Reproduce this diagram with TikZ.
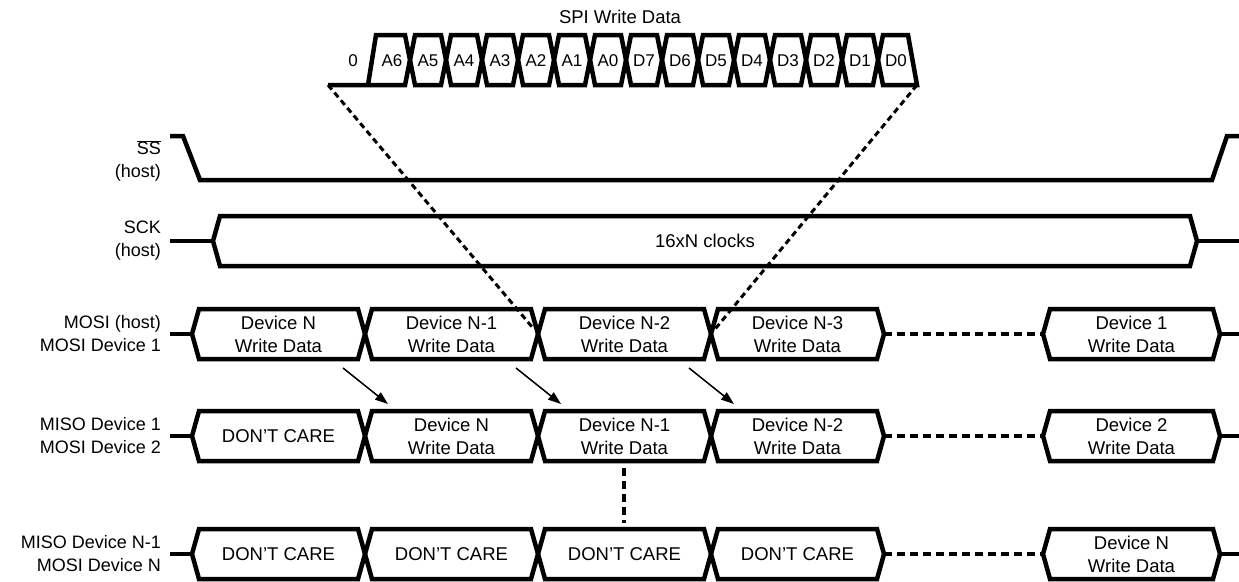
\documentclass[tikz,border=0pt]{standalone}
\usepackage{fontspec}
\setmainfont{Liberation Sans}
\usetikzlibrary{arrows.meta,calc,positioning}

\tikzset{
  wave/.style={line width=4.5pt},
  sig/.style={font=\fontsize{18}{23}\selectfont, align=right, anchor=east, inner sep=0pt},
  boxtxt/.style={font=\fontsize{18.5}{23}\selectfont, align=center, inner sep=0pt},
  bit/.style={font=\fontsize{17}{19}\selectfont, inner sep=0pt},
  gapdots/.style={line width=4.5pt, dash pattern=on 8pt off 5pt},
  linkdots/.style={line width=3pt, dash pattern=on 6pt off 4pt, shorten >=6pt},
  arr/.style={line width=1.5pt, -{Triangle[length=13pt,width=9pt]}},
}

\begin{document}
\begin{tikzpicture}[x=1pt,y=-1pt]
\useasboundingbox (0,0) rectangle (1239,581);

\node[boxtxt] (title) at (620,17) {SPI Write Data};
\node[bit] (b0) at (353,61) {0};
\draw[wave] (328,85) -- (368,85) -- (376,35) -- (405,35) -- (410,60) -- (405,85) -- (368,85);
\foreach \i in {1,...,13}
  \draw[wave] ({374+36*\i},60) -- ({379+36*\i},35) -- ({405+36*\i},35) -- ({410+36*\i},60) -- ({405+36*\i},85) -- ({379+36*\i},85) -- cycle;
\draw[wave] (878,60) -- (883,35) -- (908,35) -- (917,85) -- (883,85) -- cycle;
\foreach \t [count=\i from 0] in {A6,A5,A4,A3,A2,A1,A0,D7,D6,D5,D4,D3,D2,D1,D0}
  \node[bit] (bit\i) at ({392+36*\i},61) {\t};

\node[sig] (ss) at (161,161) {$\overline{\mbox{SS}}$\\(host)};
\draw[wave] (170,136) -- (183,136) -- (200,180) -- (1212,180) -- (1227,136) -- (1239,136);

\node[sig] (sck) at (161,241) {SCK\\(host)};
\draw[wave] (170,241) -- (213,241);
\draw[wave] (213,241) -- (220,216) -- (1190,216) -- (1197,241) -- (1190,266) -- (220,266) -- cycle;
\draw[wave] (1197,241) -- (1239,241);
\node[boxtxt] (clk) at (705,241) {16xN clocks};

\node[sig] (mosi) at (161,334) {MOSI (host)\\MOSI Device 1};
\node[sig] (misoa) at (161,436) {MISO Device 1\\MOSI Device 2};
\node[sig] (misob) at (161,554) {MISO Device N-1\\MOSI Device N};

\foreach \y/\r in {334/mosi, 436/misoa, 554/misob} {
  \draw[wave] (170,\y) -- (192,\y);
  \draw[wave] (1220,\y) -- (1239,\y);
  \draw[wave] (1043,\y) -- (1050,\y-25) -- (1213,\y-25) -- (1220,\y) -- (1213,\y+25) -- (1050,\y+25) -- cycle;
  \foreach \xa in {192,365,538,711}
    \draw[wave] (\xa,\y) -- (\xa+7,\y-25) -- (\xa+166,\y-25) -- (\xa+173,\y) -- (\xa+166,\y+25) -- (\xa+7,\y+25) -- cycle;
  \coordinate (\r-a) at (884,\y);
  \coordinate (\r-b) at (1043,\y);
  \draw[gapdots] (\r-a) -- (\r-b);
}

\foreach \t [count=\i] in {{Device N\\Write Data},{Device N-1\\Write Data},{Device N-2\\Write Data},{Device N-3\\Write Data}}
  \node[boxtxt] (mosi\i) at ({105.5+173*\i},334) {\t};
\node[boxtxt] (mosi5) at (1131.5,334) {Device 1\\Write Data};

\foreach \t [count=\i] in {{DON'T CARE},{Device N\\Write Data},{Device N-1\\Write Data},{Device N-2\\Write Data}}
  \node[boxtxt] (misoa\i) at ({105.5+173*\i},436) {\t};
\node[boxtxt] (misoa5) at (1131.5,436) {Device 2\\Write Data};

\foreach \i in {1,...,4}
  \node[boxtxt] (misob\i) at ({105.5+173*\i},554) {DON'T CARE};
\node[boxtxt] (misob5) at (1131.5,554) {Device N\\Write Data};

\foreach \c [count=\i] in {365,538,711} {
  \coordinate (from\i) at (\c-22,368);
  \coordinate (to\i) at (\c+23,404);
  \draw[arr] (from\i) -- (to\i);
}

\coordinate (chainTop) at (624,468);
\coordinate (chainBot) at (624,523);
\draw[gapdots] (chainTop) -- (chainBot);

\coordinate (spiL) at (328,85);
\coordinate (spiR) at (917,85);
\coordinate (xN2) at (538,334);
\coordinate (xN3) at (711,334);
\draw[linkdots] (spiL) -- (xN2);
\draw[linkdots] (spiR) -- (xN3);
\end{tikzpicture}
\end{document}
